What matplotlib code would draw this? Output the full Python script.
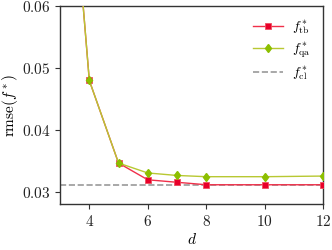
import matplotlib
matplotlib.use("Agg")
import matplotlib.pyplot as plt

plt.rcParams['font.family'] = 'serif'
plt.rcParams['font.serif'] = ['cmr10', 'DejaVu Serif']
plt.rcParams['mathtext.fontset'] = 'cm'
plt.rcParams['axes.formatter.use_mathtext'] = True
plt.rcParams['font.size'] = 11

d = [3, 4, 5, 6, 7, 8, 10, 12]
tb = [0.105, 0.0480, 0.0347, 0.0320, 0.0316, 0.0312, 0.0312, 0.0312]
qa = [0.105, 0.0480, 0.0347, 0.0331, 0.0327, 0.0325, 0.0325, 0.0326]
cl = 0.0312
xticks = [4, 6, 8, 10, 12]
yticks = [0.03, 0.04, 0.05, 0.06]

fig = plt.figure(figsize=(3.32, 2.5), dpi=100)
ax = fig.add_axes([0.181, 0.184, 0.792, 0.792])

ax.plot(d, tb, color='#f0304a', lw=1.0, marker='s', ms=4.5,
        mfc='#e8002a', mec='#f05060', mew=0.6, label=r'$f^*_{\rm tb}$', zorder=3)
ax.plot(d, qa, color='#b8c832', lw=1.0, marker='d', ms=4.5,
        mfc='#8cbf00', mec='#8cbf00', label=r'$f^*_{\rm qa}$', zorder=4)
ax.axhline(cl, color='#999999', lw=1.2, ls='--', label=r'$f^*_{\rm cl}$', zorder=2)

ax.set_xlim(3, 12)
ax.set_ylim(0.0281, 0.06)
ax.set_xticks(xticks)
ax.set_yticks(yticks)
ax.set_xlabel(r'$d$', labelpad=2)
ax.set_ylabel(r'$\mathrm{rmse}(f^*)$', labelpad=1)
for s in ax.spines.values():
    s.set_color('#333333')
    s.set_linewidth(1.0)
ax.tick_params(colors='#333333', labelcolor='#222222', length=3.5)
ax.legend(loc='upper right', frameon=False, fontsize=10, handlelength=2.2,
          borderaxespad=0.5, labelspacing=0.3, handletextpad=0.6)

fig.savefig('out.png', dpi=100)
